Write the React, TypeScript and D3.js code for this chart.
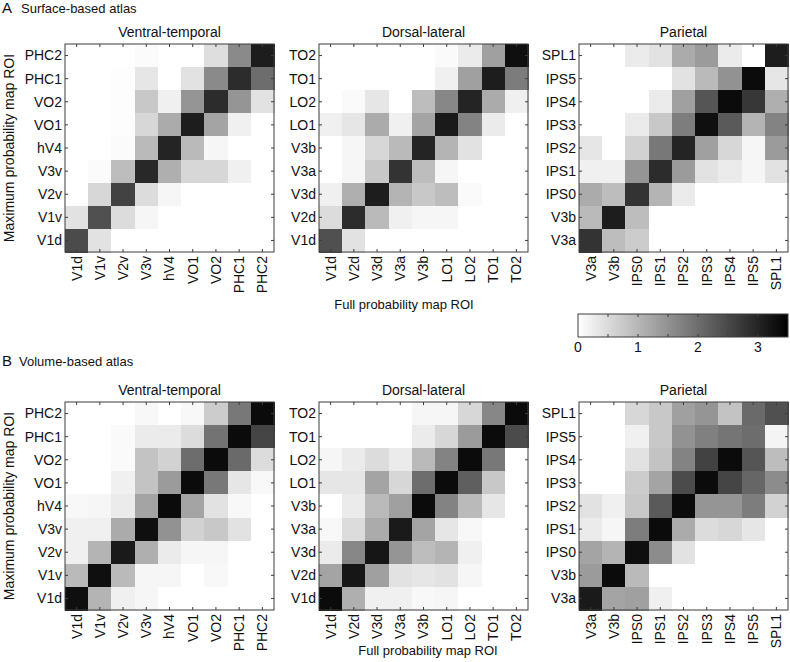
import React from 'react';
import * as d3 from 'd3';

// ROI labels (columns, left to right; rows are the same list, bottom to top)
const vtLabels = ['V1d', 'V1v', 'V2v', 'V3v', 'hV4', 'VO1', 'VO2', 'PHC1', 'PHC2'];
const dlLabels = ['V1d', 'V2d', 'V3d', 'V3a', 'V3b', 'LO1', 'LO2', 'TO1', 'TO2'];
const parLabels = ['V3a', 'V3b', 'IPS0', 'IPS1', 'IPS2', 'IPS3', 'IPS4', 'IPS5', 'SPL1'];

const colorTicks = [0, 1, 2, 3];

// matrices: rows listed top to bottom (last label first)
const surfVT = [
  [0, 0, 0, 0.05, 0, 0, 0.45, 1.6, 3.1],
  [0, 0, 0.03, 0.35, 0, 0.4, 1.6, 2.9, 2.0],
  [0, 0, 0.03, 0.75, 0.2, 1.45, 2.9, 1.45, 0.4],
  [0, 0, 0.03, 0.55, 1.15, 3.1, 1.25, 0.2, 0],
  [0, 0, 0.05, 0.95, 3.0, 0.95, 0.13, 0, 0],
  [0, 0.05, 0.9, 2.95, 1.1, 0.55, 0.55, 0.2, 0],
  [0, 0.55, 2.6, 0.48, 0.13, 0, 0, 0, 0],
  [0.4, 2.4, 0.48, 0.13, 0, 0, 0, 0, 0],
  [2.47, 0.4, 0, 0, 0, 0, 0, 0, 0],
];

const surfDL = [
  [0, 0, 0, 0, 0, 0.07, 0.27, 1.3, 3.3],
  [0, 0, 0, 0, 0, 0.2, 1.3, 3.1, 1.8],
  [0, 0.07, 0.34, 0, 0.9, 1.65, 3.0, 1.15, 0.2],
  [0.2, 0.34, 1.15, 0.2, 1.25, 3.15, 1.7, 0.27, 0],
  [0, 0.13, 0.55, 0.95, 3.0, 1.03, 0.4, 0, 0],
  [0, 0.13, 0.75, 2.8, 0.9, 0.13, 0, 0, 0],
  [0.2, 1.1, 3.1, 1.03, 0.75, 0.9, 0.07, 0, 0],
  [0.48, 2.9, 0.95, 0.2, 0.13, 0.13, 0, 0, 0],
  [2.4, 0.4, 0, 0, 0, 0, 0, 0, 0],
];

const surfPar = [
  [0, 0, 0.27, 0.4, 1.15, 1.37, 0.27, 0, 3.1],
  [0, 0, 0, 0, 0.4, 0.95, 1.5, 3.35, 0.34],
  [0, 0, 0, 0.27, 1.3, 2.33, 3.35, 2.75, 1.1],
  [0, 0, 0.27, 0.75, 1.78, 3.3, 2.26, 1.03, 1.7],
  [0.34, 0, 0.62, 1.85, 3.0, 1.3, 0.55, 0.13, 1.37],
  [0.2, 0.2, 1.45, 2.9, 1.37, 0.4, 0.27, 0.13, 0.4],
  [1.15, 0.9, 2.8, 1.03, 0.27, 0, 0, 0, 0],
  [0.95, 3.1, 0.9, 0, 0, 0, 0, 0, 0],
  [2.8, 0.9, 0.7, 0, 0, 0, 0, 0, 0],
];

const volVT = [
  [0, 0, 0, 0.1, 0, 0.1, 0.7, 1.85, 3.35],
  [0, 0, 0.07, 0.27, 0.27, 0.48, 1.92, 3.35, 2.55],
  [0, 0, 0.07, 0.82, 0.62, 2.0, 3.35, 2.05, 0.48],
  [0, 0, 0.2, 0.82, 1.37, 3.35, 1.85, 0.34, 0.1],
  [0.1, 0.13, 0.27, 1.25, 3.35, 1.25, 0.4, 0.1, 0],
  [0.2, 0.2, 1.15, 3.3, 1.5, 0.62, 0.75, 0.4, 0],
  [0.2, 1.03, 3.15, 1.1, 0.27, 0.13, 0.13, 0, 0],
  [0.95, 3.3, 0.95, 0.13, 0.13, 0, 0.1, 0, 0],
  [3.3, 1.03, 0.2, 0.13, 0, 0, 0, 0, 0],
];

const volDL = [
  [0, 0, 0, 0, 0.13, 0.13, 0.55, 1.65, 3.35],
  [0, 0, 0, 0, 0.27, 0.55, 1.37, 3.35, 2.47],
  [0.13, 0.27, 0.48, 0.27, 0.95, 1.7, 3.35, 1.85, 0],
  [0.34, 0.34, 1.25, 0.55, 2.0, 3.35, 2.2, 0.75, 0],
  [0, 0.27, 0.95, 1.3, 3.35, 1.7, 0.95, 0.34, 0],
  [0.1, 0.48, 1.15, 3.15, 1.25, 0.34, 0.1, 0, 0],
  [0.27, 1.65, 3.2, 1.45, 0.9, 1.03, 0.2, 0, 0],
  [1.25, 3.2, 1.3, 0.4, 0.34, 0.4, 0.13, 0, 0],
  [3.35, 1.1, 0.2, 0.2, 0.1, 0.13, 0, 0, 0],
];

const volPar = [
  [0, 0, 0.55, 0.75, 1.3, 1.45, 0.82, 2.05, 2.4],
  [0, 0, 0.2, 0.75, 1.5, 1.75, 1.9, 2.0, 0.15],
  [0, 0, 0.4, 0.82, 1.7, 2.6, 3.35, 2.33, 0.9],
  [0, 0, 0.7, 1.25, 2.47, 3.35, 2.55, 2.1, 1.58],
  [0.4, 0.2, 0.75, 2.26, 3.35, 1.45, 1.45, 1.78, 0.62],
  [0.27, 0.13, 1.78, 3.35, 1.15, 0.48, 0.55, 0.34, 0],
  [1.25, 1.03, 3.3, 1.58, 0.4, 0, 0, 0, 0],
  [1.37, 3.35, 0.95, 0, 0, 0, 0, 0, 0],
  [3.15, 1.25, 1.3, 0.2, 0, 0, 0, 0, 0],
];

const FONT = '"Liberation Sans", Arial, Helvetica, sans-serif';
const AXIS = '#3c3c3c';
const VMAX = 3.5;

const color = d3.scaleLinear<string>().domain([0, VMAX]).range(['#ffffff', '#000000']).clamp(true);

interface PanelProps {
  x0: number;
  y0: number;
  w: number;
  h: number;
  labels: string[];
  matrix: number[][];
  title: string;
}

const Panel: React.FC<PanelProps> = ({ x0, y0, w, h, labels, matrix, title }) => {
  const x = d3.scaleBand().domain(labels).range([x0, x0 + w]);
  const y = d3.scaleBand().domain(labels.slice().reverse()).range([y0, y0 + h]);
  const rowLabels = labels.slice().reverse();
  const tick = 3;

  return (
    <g>
      {matrix.map((row, i) =>
        row.map((v, j) => (
          <rect
            key={`${i}-${j}`}
            x={x(labels[j])}
            y={y(rowLabels[i])}
            width={x.bandwidth() + 0.5}
            height={y.bandwidth() + 0.5}
            fill={color(v)}
            shapeRendering="crispEdges"
          />
        ))
      )}
      <rect x={x0} y={y0} width={w} height={h} fill="none" stroke={AXIS} strokeWidth={1} />
      {labels.map((l) => {
        const cx = (x(l) || 0) + x.bandwidth() / 2;
        const cy = (y(l) || 0) + y.bandwidth() / 2;
        return (
          <g key={l} stroke={AXIS} strokeWidth={1}>
            <line x1={cx} x2={cx} y1={y0} y2={y0 + tick} />
            <line x1={cx} x2={cx} y1={y0 + h} y2={y0 + h - tick} />
            <line x1={x0} x2={x0 + tick} y1={cy} y2={cy} />
            <line x1={x0 + w} x2={x0 + w - tick} y1={cy} y2={cy} />
          </g>
        );
      })}
      {labels.map((l) => {
        const cx = (x(l) || 0) + x.bandwidth() / 2;
        return (
          <text
            key={`xl-${l}`}
            transform={`translate(${cx},${y0 + h + 4}) rotate(-90)`}
            textAnchor="end"
            dy="0.35em"
            fontSize={14}
            fontFamily={FONT}
            fill="#111"
          >
            {l}
          </text>
        );
      })}
      {labels.map((l) => {
        const cy = (y(l) || 0) + y.bandwidth() / 2;
        return (
          <text
            key={`yl-${l}`}
            x={x0 - 3}
            y={cy}
            dy="0.35em"
            textAnchor="end"
            fontSize={14}
            fontFamily={FONT}
            fill="#111"
          >
            {l}
          </text>
        );
      })}
      <text x={x0 + w / 2} y={y0 - 7} textAnchor="middle" fontSize={14} fontFamily={FONT} fill="#111">
        {title}
      </text>
    </g>
  );
};

const Colorbar: React.FC<{ x0: number; y0: number; w: number; h: number }> = ({ x0, y0, w, h }) => {
  const s = d3.scaleLinear().domain([0, VMAX]).range([x0, x0 + w]);
  const minor = d3.range(0.5, VMAX, 0.5);
  return (
    <g>
      <defs>
        <linearGradient id="cbar" x1="0" x2="1" y1="0" y2="0">
          <stop offset="0%" stopColor={color(0)} />
          <stop offset="100%" stopColor={color(VMAX)} />
        </linearGradient>
      </defs>
      <rect x={x0} y={y0} width={w} height={h} fill="url(#cbar)" stroke={AXIS} strokeWidth={1} />
      {minor.map((t) => (
        <g key={t} stroke={AXIS} strokeWidth={1}>
          <line x1={s(t)} x2={s(t)} y1={y0} y2={y0 + 3} />
          <line x1={s(t)} x2={s(t)} y1={y0 + h} y2={y0 + h - 3} />
        </g>
      ))}
      {colorTicks.map((t) => (
        <text key={t} x={s(t)} y={y0 + h + 15} textAnchor="middle" fontSize={14} fontFamily={FONT} fill="#111">
          {t}
        </text>
      ))}
    </g>
  );
};

const panelX = [65, 319, 579];
const PW = 209;
const PH = 208;

const App: React.FC = () => {
  const rows = [
    { top: 44, mats: [surfVT, surfDL, surfPar], xlab: 404, xlabY: 309 },
    { top: 402, mats: [volVT, volDL, volPar], xlab: 428, xlabY: 655 },
  ];
  const lbls = [vtLabels, dlLabels, parLabels];
  const titles = ['Ventral-temporal', 'Dorsal-lateral', 'Parietal'];

  return (
    <svg width={790} height={662} style={{ position: 'absolute', left: 0, top: 0, background: '#fff' }}>
      <rect width={790} height={662} fill="#fff" />
      <text x={2} y={13} fontSize={15} fontFamily={FONT} fill="#111">A</text>
      <text x={21} y={13} fontSize={13} fontFamily={FONT} fill="#111">Surface-based atlas</text>
      <text x={2} y={366} fontSize={15} fontFamily={FONT} fill="#111">B</text>
      <text x={19} y={366} fontSize={13} fontFamily={FONT} fill="#111">Volume-based atlas</text>
      {rows.map((r, ri) => (
        <g key={ri}>
          {r.mats.map((m, pi) => (
            <Panel
              key={pi}
              x0={panelX[pi]}
              y0={r.top}
              w={PW}
              h={PH}
              labels={lbls[pi]}
              matrix={m}
              title={titles[pi]}
            />
          ))}
          <text
            transform={`translate(14,${r.top + PH / 2}) rotate(-90)`}
            textAnchor="middle"
            fontSize={14}
            fontFamily={FONT}
            fill="#111"
          >
            Maximum probability map ROI
          </text>
          <text x={r.xlab} y={r.xlabY} textAnchor="middle" fontSize={13} fontFamily={FONT} fill="#111">
            Full probability map ROI
          </text>
        </g>
      ))}
      <Colorbar x0={578} y0={314} w={210} h={23} />
    </svg>
  );
};

export default App;
